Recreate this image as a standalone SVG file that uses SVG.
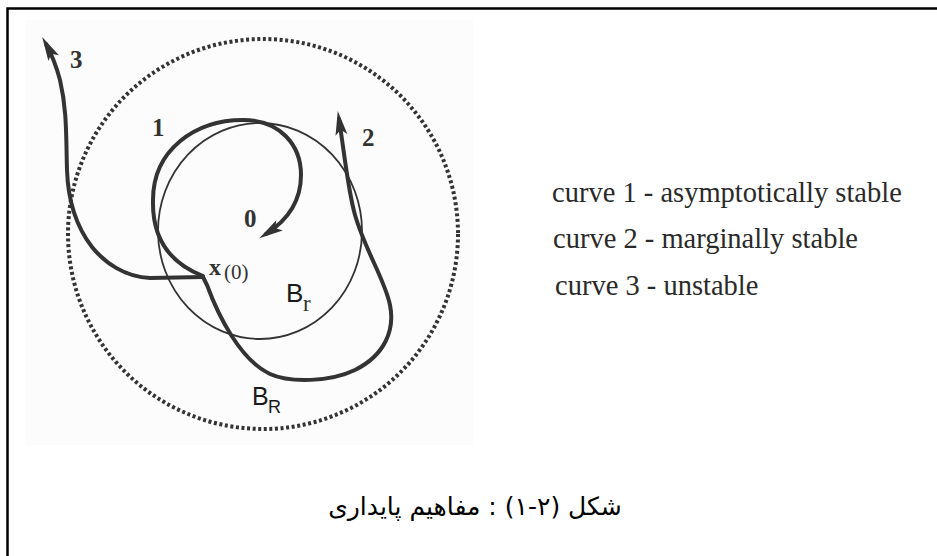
<svg xmlns="http://www.w3.org/2000/svg" width="937" height="556" viewBox="0 0 937 556">
  <style>
    .curve { fill: none; stroke: #333; stroke-width: 4; stroke-linecap: round; stroke-linejoin: miter; }
    .num { font-family: "Liberation Serif", serif; font-weight: bold; font-size: 25px; fill: #333; }
    .leg { font-family: "Liberation Serif", serif; font-size: 28.5px; fill: #2a2a2a; }
    .sans { font-family: "Liberation Sans", sans-serif; fill: #1a1a1a; }
    .cap { font-family: "DejaVu Sans", sans-serif; font-size: 25px; fill: #000; }
  </style>
  <defs>
    <marker id="ah" markerUnits="userSpaceOnUse" markerWidth="40" markerHeight="20" viewBox="-20 -10 40 20" refX="0" refY="0" orient="auto">
      <path d="M8,0 L-16,-6 L-11,0 L-16,6 Z" fill="#333"/>
    </marker>
  </defs>
  <rect x="0" y="0" width="937" height="556" fill="#fff"/>
  <rect x="25" y="20" width="448" height="425" fill="#fcfcfc"/>
  <path d="M7.5,556 L7.5,8.5 L937,8.5" fill="none" stroke="#000" stroke-width="2.5"/>

  <g id="ball-R">
    <circle cx="263" cy="234" r="195" fill="none" stroke="#333" stroke-width="4" stroke-dasharray="3 2.6"/>
  </g>
  <g id="ball-r">
    <ellipse cx="260" cy="231" rx="102" ry="108" fill="none" stroke="#333" stroke-width="1.8"/>
  </g>

  <g id="connectors">
    <path id="curve1" class="curve" d="M203,276 C172,264 152,240 153,200 C153,150 195,120 243,120 C280,120 301,145 301,175 C301,200 288,220 266,234" marker-end="url(#ah)"/>
    <path id="curve2" class="curve" d="M203,277 L207,285 C218,315 240,360 270,374 C290,383 330,382 355,370 C385,355 395,330 390,305 C385,280 365,250 355,215 C348,190 345,158 339,119" marker-end="url(#ah)"/>
    <path id="curve3" class="curve" d="M203,277 L150,278 C125,277 105,263 92,247 C75,225 68,200 67,170 C66,135 67,110 60,80 C56,65 52,55 46,44" marker-end="url(#ah)"/>
  </g>

  <g id="labels">
    <text class="num" x="70" y="68">3</text>
    <text class="num" x="152" y="136">1</text>
    <text class="num" x="362" y="146">2</text>
    <text class="num" x="244" y="227">0</text>
    <text x="209" y="275" font-family="Liberation Serif, serif" font-weight="bold" font-size="24" fill="#333">x</text>
    <text x="224" y="279" font-family="Liberation Serif, serif" font-size="21" fill="#333">(0)</text>
    <text class="sans" x="286" y="302" font-size="26">B</text>
    <text x="303" y="311" font-family="Liberation Serif, serif" font-size="23" fill="#333">r</text>
    <text class="sans" x="252" y="405" font-size="25">B</text>
    <text class="sans" x="268" y="413" font-size="18" fill="#333">R</text>
  </g>

  <g id="legend">
    <text class="leg" x="552" y="202">curve 1 - asymptotically stable</text>
    <text class="leg" x="553" y="248">curve 2 - marginally stable</text>
    <text class="leg" x="555" y="295">curve 3 - unstable</text>
  </g>

  <g id="caption">
    <text class="cap" x="475" y="515" text-anchor="middle" direction="rtl">شکل (۲-۱) : مفاهیم پایداری</text>
  </g>
</svg>
